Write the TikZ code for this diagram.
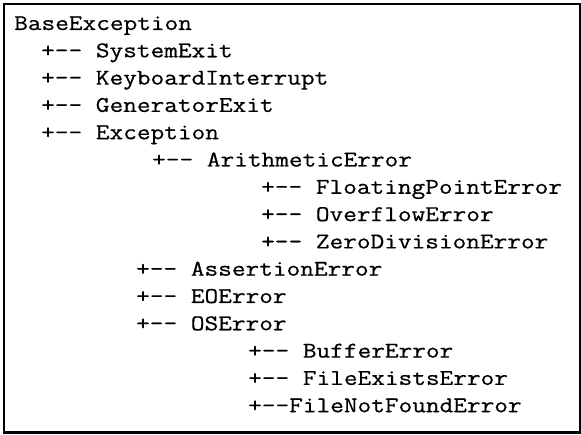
\documentclass[tikz,border=0pt]{standalone}
\usepackage{fontspec}
\newfontfamily\codefont[FakeStretch=1.18,FakeBold=0.6]{Latin Modern Mono}
\begin{document}
\begin{tikzpicture}[x=1pt,y=-1pt,
  entry/.style={anchor=base west, inner sep=0pt, font=\codefont\fontsize{22.5}{27}\selectfont}]
\useasboundingbox (0,0) rectangle (581,435);
\draw[line width=2.4pt] (4,4) rectangle (579.8,432.6);
% top level
\node[entry] (base) at (14,30) {BaseException};
\node[entry] (sysexit) at (41,57.3) {+-- SystemExit};
\node[entry] (kbint) at (41,84.6) {+-- KeyboardInterrupt};
\node[entry] (genexit) at (41,111.9) {+-- GeneratorExit};
\node[entry] (exc) at (41,139.2) {+-- Exception};
% under Exception
\node[entry] (arith) at (152,166.5) {+-- ArithmeticError};
\node[entry] (float) at (261,193.8) {+-- FloatingPointError};
\node[entry] (overflow) at (261,221.1) {+-- OverflowError};
\node[entry] (zerodiv) at (261,248.4) {+-- ZeroDivisionError};
\node[entry] (assert) at (136,275.7) {+-- AssertionError};
\node[entry] (eoerr) at (136,303) {+-- EOError};
\node[entry] (oserr) at (136,330.3) {+-- OSError};
% under OSError
\node[entry] (buffer) at (248,357.6) {+-- BufferError};
\node[entry] (fexists) at (248,384.9) {+-- FileExistsError};
\node[entry] (fnotfound) at (248,412.2) {+--FileNotFoundError};
\end{tikzpicture}
\end{document}
